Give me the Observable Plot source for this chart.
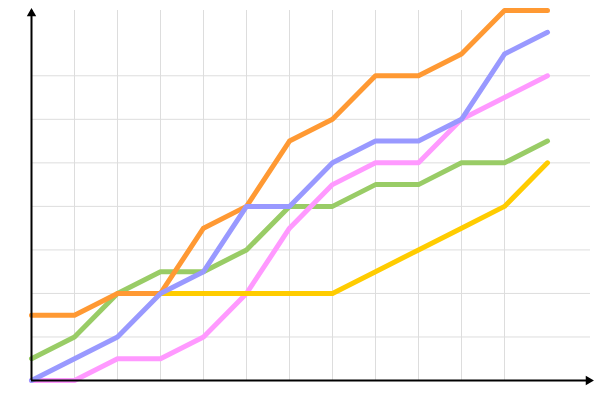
<!DOCTYPE html>
<html>
<head>
<meta charset="utf-8">
<script src="https://cdn.jsdelivr.net/npm/d3@7"></script>
<script src="https://cdn.jsdelivr.net/npm/@observablehq/plot@0.6"></script>
<style>
  html, body { margin: 0; padding: 0; background: #fff; }
  #chart svg { display: block; }
</style>
</head>
<body>
<div id="chart"></div>
<script>
const steps = [0, 1, 2, 3, 4, 5, 6, 7, 8, 9, 10, 11, 12];
const orange = [1.5, 1.5, 2, 2, 3.5, 4, 5.5, 6, 7, 7, 7.5, 8.5, 8.5];
const blue   = [0, 0.5, 1, 2, 2.5, 4, 4, 5, 5.5, 5.5, 6, 7.5, 8];
const pink   = [0, 0, 0.5, 0.5, 1, 2, 3.5, 4.5, 5, 5, 6, 6.5, 7];
const green  = [0.5, 1, 2, 2.5, 2.5, 3, 4, 4, 4.5, 4.5, 5, 5, 5.5];
const yellowSteps = [3, 4, 5, 6, 7, 8, 9, 10, 11, 12];
const yellow = [2, 2, 2, 2, 2, 2.5, 3, 3.5, 4, 5];
const xGrid = [1, 2, 3, 4, 5, 6, 7, 8, 9, 10, 11];
const yGrid = [1, 2, 3, 4, 5, 6, 7];

const mk = (xs, ys) => xs.map((x, i) => ({x, y: ys[i]}));
const lw = 5;

const chart = Plot.plot({
  width: 600,
  height: 400,
  marginLeft: 31,
  marginRight: 10,
  marginTop: 10,
  marginBottom: 20,
  x: {domain: [0, 13], axis: null},
  y: {domain: [0, 8.5], axis: null},
  marks: [
    Plot.ruleX(xGrid, {y1: 0, y2: 8.5, stroke: "#dddddd", strokeWidth: 1}),
    Plot.ruleY(yGrid, {x1: 0, x2: 13, stroke: "#dddddd", strokeWidth: 1}),
    Plot.line(mk(steps, green), {x: "x", y: "y", stroke: "#99cc66", strokeWidth: lw, curve: "linear"}),
    Plot.line(mk(steps, pink), {x: "x", y: "y", stroke: "#ff99ff", strokeWidth: lw}),
    Plot.line(mk(yellowSteps, yellow), {x: "x", y: "y", stroke: "#ffcc00", strokeWidth: lw}),
    Plot.line(mk(steps, orange), {x: "x", y: "y", stroke: "#ff9933", strokeWidth: lw}),
    Plot.line(mk(steps, blue), {x: "x", y: "y", stroke: "#9999ff", strokeWidth: lw}),
    Plot.ruleY([0], {x1: 0, x2: 13, stroke: "#000", strokeWidth: 2}),
    Plot.ruleX([0], {y1: 0, y2: 8.5, stroke: "#000", strokeWidth: 2}),
    Plot.dot([{x: 13, y: 0}], {x: "x", y: "y", symbol: "triangle", r: 3.5, fill: "#000", stroke: null, rotate: 90, dx: -2}),
    Plot.dot([{x: 0, y: 8.5}], {x: "x", y: "y", symbol: "triangle", r: 3.5, fill: "#000", stroke: null, dy: 3})
  ]
});
document.getElementById("chart").appendChild(chart);
</script>
</body>
</html>
